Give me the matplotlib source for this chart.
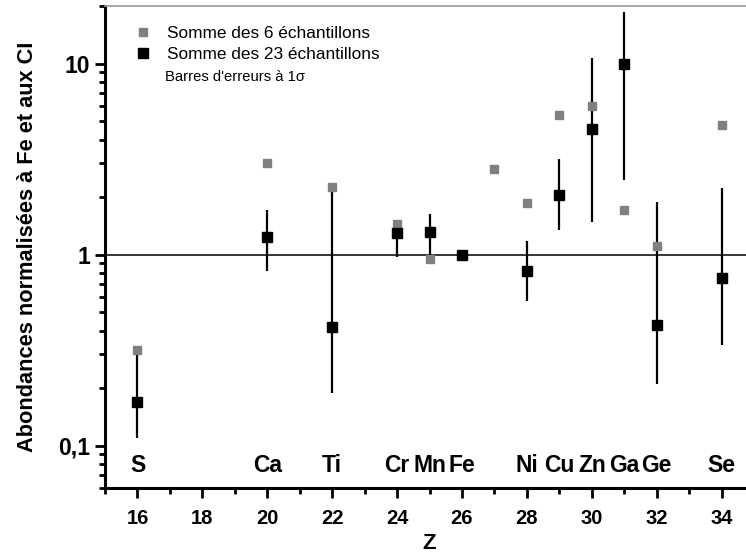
import numpy as np
import matplotlib
matplotlib.use("Agg")
import matplotlib.pyplot as plt
from matplotlib.ticker import FixedLocator, FixedFormatter, LogLocator, NullFormatter

plt.rcParams['font.family'] = ['Liberation Sans', 'DejaVu Sans']
plt.rcParams['font.weight'] = 'bold'

# Somme des 6 echantillons (gris)
z6 = [16, 20, 22, 24, 25, 26, 27, 28, 29, 30, 31, 32, 34]
ab6 = [0.318, 3.03, 2.27, 1.45, 0.953, 1.0, 2.79, 1.87, 5.41, 6.03, 1.72, 1.11, 4.74]

# Somme des 23 echantillons (noir) + barres d'erreur a 1 sigma
z23 = [16, 20, 22, 24, 25, 26, 28, 29, 30, 31, 32, 34]
ab23 = [0.170, 1.24, 0.42, 1.30, 1.32, 1.0, 0.824, 2.04, 4.57, 10.0, 0.43, 0.758]
err_hi = [0.299, 1.72, 2.16, 1.52, 1.64, 1.0, 1.18, 3.18, 10.7, 18.7, 1.89, 2.24]
err_lo = [0.110, 0.824, 0.189, 0.976, 0.94, 1.0, 0.574, 1.35, 1.49, 2.47, 0.209, 0.338]

elem_z = [16, 20, 22, 24, 25, 26, 28, 29, 30, 31, 32, 34]
elem_names = ["S", "Ca", "Ti", "Cr", "Mn", "Fe", "Ni", "Cu", "Zn", "Ga", "Ge", "Se"]

fig = plt.figure(figsize=(7.46, 5.58), dpi=100)
ax = fig.add_axes([0.1408, 0.1254, 0.870, 0.8638])

ax.axhline(1, color="black", lw=1.1, zorder=1)

yerr = [np.array(ab23) - np.array(err_lo), np.array(err_hi) - np.array(ab23)]
ax.errorbar(z23, ab23, yerr=yerr, fmt="none", ecolor="black", elinewidth=1.6,
            capsize=0, zorder=2)
ax.plot(z6, ab6, "s", color="#808080", markersize=6, mec="#808080",
        label="Somme des 6 échantillons", zorder=3)
ax.plot(z23, ab23, "s", color="black", markersize=7,
        label="Somme des 23 échantillons", zorder=4)

ax.set_yscale("log")
ax.set_xlim(15, 35)
ax.set_ylim(0.06, 20)

ax.yaxis.set_major_locator(FixedLocator([0.1, 1, 10]))
ax.yaxis.set_major_formatter(FixedFormatter(["0,1", "1", "10"]))
ax.yaxis.set_minor_locator(LogLocator(base=10, subs=np.arange(2, 10)))
ax.yaxis.set_minor_formatter(NullFormatter())
ax.set_xticks(range(16, 35, 2))
ax.set_xticks(range(15, 35, 2), minor=True)

ax.tick_params(axis="both", which="major", direction="out", length=7, width=2)
ax.tick_params(axis="both", which="minor", direction="out", length=4.5, width=2)
ax.tick_params(axis="x", pad=8, labelsize=14.5)
ax.tick_params(axis="y", labelsize=16.5)
for lab in ax.get_xticklabels() + ax.get_yticklabels():
    lab.set_fontweight("bold")

ax.spines["left"].set_linewidth(2.2)
ax.spines["bottom"].set_linewidth(2.2)
ax.spines["top"].set_color("#999999")
ax.spines["top"].set_linewidth(1.2)
ax.spines["right"].set_visible(False)

for z, name in zip(elem_z, elem_names):
    ax.text(z, 0.0785, name, ha="center", va="center", fontsize=16.5,
            fontweight="bold")

ax.set_xlabel("Z", fontsize=16, fontweight="bold", labelpad=4)
ax.set_ylabel("Abondances normalisées à Fe et aux CI", fontsize=15.7,
              fontweight="bold", labelpad=15)

leg = ax.legend(loc="upper left", bbox_to_anchor=(0.018, 0.99), frameon=False,
                fontsize=12.4, handletextpad=0.8, labelspacing=0.3,
                handlelength=1.2)
for t in leg.get_texts():
    t.set_fontweight("normal")
ax.text(0.093, 0.853, "Barres d'erreurs à 1σ", transform=ax.transAxes,
        fontsize=10.6, fontweight="normal", va="center")

fig.savefig("out.png", dpi=100)
